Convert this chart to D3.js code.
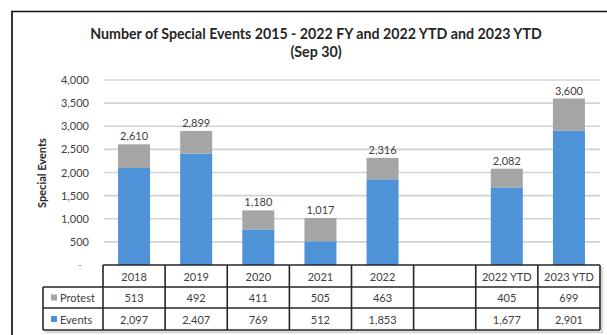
<!DOCTYPE html>
<html>
<head>
<meta charset="utf-8">
<script src="https://cdn.jsdelivr.net/npm/d3@7"></script>
<style>
  html, body { margin: 0; padding: 0; background: #fff; }
  svg { display: block; font-family: Lato, "Open Sans", sans-serif; }
</style>
</head>
<body>
<svg id="chart" width="607" height="335"></svg>
<script>
// Special events per fiscal year (plus year-to-date through Sep 30)
const categories = ["2018", "2019", "2020", "2021", "2022", "", "2022 YTD", "2023 YTD"];
const protest = [513, 492, 411, 505, 463, null, 405, 699];
const events = [2097, 2407, 769, 512, 1853, null, 1677, 2901];
const yTicks = [0, 500, 1000, 1500, 2000, 2500, 3000, 3500, 4000];
const seriesNames = ["Protest", "Events"];

const colors = { Protest: "#a5a5a5", Events: "#4e92d8" };
const textColor = "#404040";

const svg = d3.select("#chart");

// Outer frame (left and top edges visible)
svg.append("path")
  .attr("d", "M12,335 L12,11.5 L607,11.5")
  .attr("fill", "none")
  .attr("stroke", "#111")
  .attr("stroke-width", 1.7);

// Title
const titleX = 316;
const title = svg.append("text")
  .attr("text-anchor", "middle")
  .attr("font-weight", "bold")
  .attr("font-size", 14.2)
  .attr("fill", "#262626");
title.append("tspan").attr("x", titleX).attr("y", 39)
  .text("Number of Special Events 2015 - 2022 FY and 2022 YTD and 2023 YTD");
title.append("tspan").attr("x", titleX).attr("y", 57).text("(Sep 30)");

// Scales
const x = d3.scaleBand().domain(categories).range([103, 600]).paddingInner(0).paddingOuter(0);
const y = d3.scaleLinear().domain([0, 4000]).range([265, 80]);

// Gridlines
svg.append("g")
  .selectAll("line")
  .data(yTicks.filter(d => d > 0))
  .join("line")
  .attr("x1", 104).attr("x2", 600)
  .attr("y1", d => y(d)).attr("y2", d => y(d))
  .attr("stroke", "#d2d2d2")
  .attr("stroke-width", 1.7);

// Y axis labels
const yAxis = d3.axisLeft(y)
  .tickValues(yTicks)
  .tickSize(0)
  .tickPadding(0)
  .tickFormat(d => d === 0 ? "-" : d3.format(",")(d));
const yg = svg.append("g").attr("transform", "translate(89,0)").call(yAxis);
yg.select(".domain").remove();
yg.selectAll("text")
  .attr("font-size", 11)
  .attr("font-family", "Lato, sans-serif")
  .attr("fill", textColor);
yg.selectAll(".tick").filter(d => d === 0).select("text").attr("dx", -7).attr("fill", "#999");

// Y axis title
svg.append("text")
  .attr("transform", "translate(46,173) rotate(-90)")
  .attr("text-anchor", "middle")
  .attr("font-weight", "bold")
  .attr("font-size", 11)
  .attr("fill", "#262626")
  .text("Special Events");

// Stacked bars
const rows = categories.map((c, i) => ({ cat: c, Events: events[i], Protest: protest[i] }))
  .filter(r => r.Events != null);
const stack = d3.stack().keys(["Events", "Protest"]);
const stacked = stack(rows);
const barW = 32;

svg.append("g")
  .selectAll("g")
  .data(stacked)
  .join("g")
  .attr("fill", s => colors[s.key])
  .selectAll("rect")
  .data(s => s)
  .join("rect")
  .attr("x", d => x(d.data.cat) + (x.bandwidth() - barW) / 2)
  .attr("width", barW)
  .attr("y", d => y(d[1]))
  .attr("height", d => y(d[0]) - y(d[1]));

// Total labels
svg.append("g")
  .selectAll("text")
  .data(rows)
  .join("text")
  .attr("x", d => x(d.cat) + x.bandwidth() / 2)
  .attr("y", d => y(d.Events + d.Protest) - 4)
  .attr("text-anchor", "middle")
  .attr("font-size", 11)
  .attr("fill", textColor)
  .text(d => d3.format(",")(d.Events + d.Protest));

// Data table
const rowTops = [265, 287, 308, 330];
const legendLeft = 43;
const tableRight = x.range()[1];
const table = svg.append("g");

// soft shadow behind the table
table.append("path")
  .attr("d", `M${legendLeft + 2},${rowTops[3] + 2} L${tableRight + 2},${rowTops[3] + 2} L${tableRight + 2},${rowTops[0] + 2}`)
  .attr("fill", "none")
  .attr("stroke", "#d8d8d8")
  .attr("stroke-width", 2.5);

const rules = table.append("g");
// horizontal rules
rules.append("line")
  .attr("x1", x.range()[0]).attr("x2", tableRight)
  .attr("y1", rowTops[0]).attr("y2", rowTops[0]);
rowTops.slice(1).forEach(t => {
  rules.append("line")
    .attr("x1", legendLeft).attr("x2", tableRight)
    .attr("y1", t).attr("y2", t);
});
// vertical rules
rules.append("line")
  .attr("x1", legendLeft).attr("x2", legendLeft)
  .attr("y1", rowTops[1]).attr("y2", rowTops[3]);
categories.forEach(c => {
  rules.append("line")
    .attr("x1", x(c)).attr("x2", x(c))
    .attr("y1", rowTops[0]).attr("y2", rowTops[3]);
});
rules.append("line")
  .attr("x1", tableRight).attr("x2", tableRight)
  .attr("y1", rowTops[0]).attr("y2", rowTops[3]);
rules.selectAll("line")
  .attr("stroke", "#262626")
  .attr("stroke-width", 1.6);

const cellText = (sel) => sel
  .attr("text-anchor", "middle")
  .attr("dominant-baseline", "central")
  .attr("font-size", 11)
  .attr("fill", textColor);

// header row
table.append("g").selectAll("text")
  .data(categories)
  .join("text")
  .attr("x", c => x(c) + x.bandwidth() / 2)
  .attr("y", (rowTops[0] + rowTops[1]) / 2)
  .call(cellText)
  .text(c => c);

// series rows
const seriesVals = { Protest: protest, Events: events };
seriesNames.forEach((name, r) => {
  const cy = (rowTops[r + 1] + rowTops[r + 2]) / 2;
  table.append("rect")
    .attr("x", legendLeft + 8).attr("y", cy - 3)
    .attr("width", 6).attr("height", 6)
    .attr("fill", colors[name]);
  table.append("text")
    .attr("x", legendLeft + 17).attr("y", cy)
    .attr("dominant-baseline", "central")
    .attr("font-size", 11)
    .attr("fill", textColor)
    .text(name);
  table.append("g").selectAll("text")
    .data(categories.map((c, i) => ({ c, v: seriesVals[name][i] })).filter(d => d.v != null))
    .join("text")
    .attr("x", d => x(d.c) + x.bandwidth() / 2)
    .attr("y", cy)
    .call(cellText)
    .text(d => d3.format(",")(d.v));
});
</script>
</body>
</html>
